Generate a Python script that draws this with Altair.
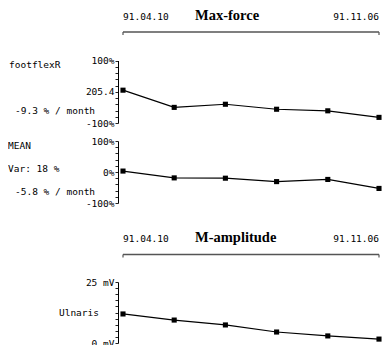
import altair as alt
import pandas as pd

# ---- data ----
idx = [0, 1, 2, 3, 4, 5]
maxforce_pct = [5, -50, -40, -56, -61, -82]
mean_pct = [3, -19, -20, -31, -24, -53]
ulnaris_mv = [11.9, 9.4, 7.4, 4.5, 2.9, 1.6]

date_first = "91.04.10"
date_last = "91.11.06"
title1 = "Max-force"
title2 = "M-amplitude"

pct_ticks = [-100, -80, -60, -40, -20, 0, 20, 40, 60, 80, 100]
mv_ticks = [0, 2.5, 5, 7.5, 10, 12.5, 15, 17.5, 20, 22.5, 25]

labels_a = ["footflexR", "-9.3 % / month"]
labels_b = ["MEAN", "Var: 18 %", "-5.8 % / month"]
labels_c = ["Ulnaris"]

MONO = "DejaVu Sans Mono"
SERIF = "Liberation Serif"
FS = 9.5
W = 264

xscale = alt.Scale(domain=[0, 5], range=[5, 261], nice=False, zero=False)
X = alt.X("i:Q", scale=xscale, axis=None)

axis_common = dict(
    title=None, domainColor="black", domainWidth=1, tickColor="#222",
    tickSize=3, tickWidth=1, labelFont=MONO, labelFontSize=FS,
    labelColor="black", labelPadding=1, labelOverlap=False,
    labelFlush=False, grid=False,
)


def series(values, yscale, yaxis):
    df = pd.DataFrame({"i": idx, "v": values})
    y = alt.Y("v:Q", scale=yscale, axis=yaxis)
    base = alt.Chart(df).encode(x=X, y=y)
    ln = base.mark_line(color="black", strokeWidth=1.2)
    pt = base.mark_point(shape="square", filled=True, size=26, color="black", opacity=1)
    return [ln, pt]


def header(y_text, y_line, title):
    d1 = alt.Chart(pd.DataFrame({"i": [0], "t": [date_first]})).mark_text(
        font=MONO, fontSize=FS, align="left", baseline="middle", color="black"
    ).encode(x=X, y=alt.value(y_text), text="t:N")
    d2 = alt.Chart(pd.DataFrame({"i": [5], "t": [date_last]})).mark_text(
        font=MONO, fontSize=FS, align="right", baseline="middle", color="black"
    ).encode(x=X, y=alt.value(y_text), text="t:N")
    tt = alt.Chart(pd.DataFrame({"t": [title]})).mark_text(
        font=SERIF, fontSize=14.5, fontWeight="bold", align="left", baseline="middle", color="black"
    ).encode(x=alt.value(77), y=alt.value(y_text - 1), text="t:N")
    rl = alt.Chart(pd.DataFrame({"i0": [0], "i1": [5]})).mark_rule(
        color="#555", strokeWidth=1.5
    ).encode(x=alt.X("i0:Q", scale=xscale, axis=None), x2="i1:Q", y=alt.value(y_line))
    ends = alt.Chart(pd.DataFrame({"i": [0, 5]})).mark_rule(
        color="#555", strokeWidth=1.2
    ).encode(x=X, y=alt.value(y_line), y2=alt.value(y_line + 3))
    return [d1, d2, tt, rl, ends]


def side_text(text, x, y, align="left"):
    return alt.Chart(pd.DataFrame({"t": [text]})).mark_text(
        font=MONO, fontSize=FS, align=align, baseline="middle", color="black"
    ).encode(x=alt.value(x), y=alt.value(y), text="t:N")


# ---- panel A: header 1 + max-force ----
ya_scale = alt.Scale(domain=[-100, 100], range=[115, 52.5], nice=False, zero=False)
ya_axis = alt.Axis(
    values=pct_ticks,
    labelExpr="datum.value == 100 ? '100%' : datum.value == 0 ? '205.4' : datum.value == -100 ? '-100%' : ''",
    **axis_common,
)
panel_a = alt.layer(
    *header(9, 24, title1),
    *series(maxforce_pct, ya_scale, ya_axis),
    side_text(labels_a[0], -109, 57),
    side_text(labels_a[1], -103, 103),
).properties(width=W, height=128)

# ---- panel B: mean ----
yb_scale = alt.Scale(domain=[-100, 100], range=[67, 5], nice=False, zero=False)
yb_axis = alt.Axis(
    values=pct_ticks,
    labelExpr="datum.value == 100 ? '100%' : datum.value == 0 ? '0%' : datum.value == -100 ? '-100%' : ''",
    **axis_common,
)
panel_b = alt.layer(
    *series(mean_pct, yb_scale, yb_axis),
    side_text(labels_b[0], -110, 10),
    side_text(labels_b[1], -110, 33),
    side_text(labels_b[2], -103, 56),
).properties(width=W, height=88)

# ---- panel C: header 2 + M-amplitude ----
yc_scale = alt.Scale(domain=[0, 25], range=[119, 58], nice=False, zero=False)
yc_axis = alt.Axis(
    values=mv_ticks,
    labelExpr="datum.value == 25 ? '25 mV' : datum.value == 0 ? '0 mV' : ''",
    **axis_common,
)
panel_c = alt.layer(
    *header(15, 30.5, title2),
    *series(ulnaris_mv, yc_scale, yc_axis),
    side_text(labels_c[0], -19, 88.5, align="right"),
).properties(width=W, height=130)

chart = (
    alt.vconcat(panel_a, panel_b, panel_c, spacing=0, bounds="flush")
    .resolve_scale(y="independent")
    .configure_view(stroke=None)
    .properties(padding={"left": 0, "top": 0, "right": 0, "bottom": 0}, background="white")
)

chart.save("out.html", embed_options={"renderer": "svg", "actions": False})
